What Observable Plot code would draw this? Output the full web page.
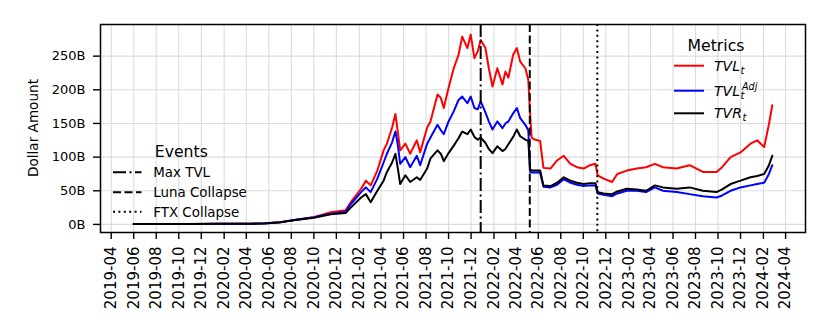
<!DOCTYPE html>
<html><head><meta charset="utf-8">
<script src="https://cdn.jsdelivr.net/npm/d3@7"></script>
<script src="https://cdn.jsdelivr.net/npm/@observablehq/plot@0.6"></script>
<style>
html,body{margin:0;padding:0;background:#fff;}
svg{font-family:"DejaVu Sans",sans-serif;display:block;}
</style></head><body><div id="chart"></div>
<script>
// ---- data ----
const dates = ["2019-06-01","2019-08-12","2019-11-02",
"2020-01-23","2020-04-12","2020-05-22","2020-07-03","2020-08-13","2020-10-01","2020-11-16","2020-12-26",
"2021-01-09","2021-02-06","2021-02-19","2021-03-04","2021-03-22","2021-04-08","2021-04-17","2021-05-01","2021-05-10","2021-05-16",
"2021-05-23","2021-06-06","2021-06-19","2021-07-07","2021-07-16","2021-08-04","2021-08-13","2021-09-01","2021-09-10","2021-09-18",
"2021-10-01","2021-10-15","2021-10-28","2021-11-07","2021-11-21","2021-11-30","2021-12-10","2021-12-19","2021-12-27",
"2022-01-09","2022-01-18","2022-01-28","2022-02-10","2022-02-24","2022-03-04","2022-03-12","2022-03-25","2022-04-04","2022-04-13",
"2022-04-27","2022-05-05","2022-05-10","2022-05-14","2022-05-23","2022-06-06","2022-06-15","2022-07-04","2022-07-22","2022-08-09",
"2022-08-27","2022-09-14","2022-10-02","2022-10-19","2022-11-03","2022-11-09","2022-11-25","2022-12-18",
"2023-01-01","2023-01-27","2023-02-23","2023-03-20","2023-04-13","2023-05-05","2023-06-11","2023-07-16","2023-08-21","2023-09-27",
"2023-10-12","2023-11-04","2023-12-01","2023-12-28",
"2024-01-15","2024-02-03","2024-02-16","2024-02-25"];

const tvl = [0.6,0.7,0.8,
1.0,1.1,1.6,3.4,7.0,10.8,18,21,
33,53,65,58,80,110,120,144,164,139,
110,120,105,125,107,144,153,193,188,173,
203,232,252,279,262,282,247,257,274,
262,232,205,232,208,227,218,252,262,242,
232,215,163,129,126,124,84,83,95,102,
90,85,83,88,90,73,68,63,
75,80,83,85,90,85,83,88,78,78,
85,100,107,120,
125,115,149,177];

const tvlAdj = [0.6,0.7,0.8,
1.0,1.1,1.6,3.4,6.8,10.8,16,19,
30,48,55,48,68,92,105,122,138,120,
90,100,85,102,88,120,129,148,140,134,
153,168,185,190,180,190,173,171,183,
166,153,141,153,143,150,153,165,173,158,
148,140,78,77,77,77,56,55,59,67,
62,59,57,58,58,46,44,42,
46,50,50,48,55,50,48,45,42,40,
43,50,55,58,
60,62,75,88];

const tvr = [0.5,0.6,0.7,
0.9,1.0,1.4,3.2,6.5,10,15,17,
25,40,45,33,50,65,78,92,105,85,
60,73,63,70,66,83,98,110,105,94,
106,117,128,138,134,141,130,126,129,
121,112,106,116,109,112,119,130,141,131,
126,124,82,80,80,80,58,57,62,70,
65,62,60,61,61,48,46,45,
49,53,52,50,58,55,53,55,50,48,
52,60,65,70,
72,75,88,102];

const eventNames = ["Max TVL","Luna Collapse","FTX Collapse"];
const eventDates = ["2021-12-27","2022-05-09","2022-11-08"];
const yTicks = [0,50,100,150,200,250];
const xDomain = ["2019-03-03","2024-05-25"];

// ---- build ----
const parse = d3.utcParse("%Y-%m-%d");
const rows = (vals) => dates.map((d,i)=>({date: parse(d), value: vals[i]}));
const xTicks = d3.utcMonth.range(new Date(Date.UTC(2019,3,1)), new Date(Date.UTC(2024,4,2)))
  .filter(d => d.getUTCMonth() % 2 === 1);

const dashes = ["13,3.5,2,3.5","8,3.5","2,3.4"];
const gridStyle = {stroke:"#dcdcdc", strokeOpacity:1, strokeWidth:1.1};

const chart = Plot.plot({
  width: 830, height: 332,
  marginLeft: 100, marginRight: 25, marginTop: 24, marginBottom: 100,
  style: {fontFamily: "DejaVu Sans", fontSize: "13px", color: "black", background: "white", overflow: "visible"},
  x: {type: "utc", domain: xDomain.map(parse)},
  y: {domain: [-12, 297]},
  marks: [
    Plot.gridX(xTicks, gridStyle),
    Plot.gridY(yTicks, gridStyle),
    Plot.line(rows(tvl), {x: "date", y: "value", stroke: "red", strokeWidth: 2}),
    Plot.line(rows(tvlAdj), {x: "date", y: "value", stroke: "blue", strokeWidth: 2}),
    Plot.line(rows(tvr), {x: "date", y: "value", stroke: "black", strokeWidth: 2}),
    ...eventDates.map((d, i) => Plot.ruleX([parse(d)], {stroke: "black", strokeWidth: 2, strokeDasharray: dashes[i]})),
    Plot.axisY(yTicks, {tickFormat: d => d + "B", tickSize: 7, tickPadding: 8, fontSize: 13, strokeWidth: 1.4, label: null}),
    Plot.axisX(xTicks, {tickFormat: d3.utcFormat("%Y-%m"), tickRotate: -90, tickSize: 7, tickPadding: 7, fontSize: 15, strokeWidth: 1.4, label: null}),
    Plot.frame({stroke: "black", strokeWidth: 1.5})
  ]
});
document.getElementById("chart").appendChild(chart);

// ---- annotations: y label & legends ----
const svg = d3.select(chart);
const g = svg.append("g").attr("font-family", "DejaVu Sans").attr("fill", "black")
  .attr("text-anchor", "start");

g.append("text").attr("transform", "translate(38,128) rotate(-90)")
  .attr("text-anchor", "middle").attr("font-size", 13.6).text("Dollar Amount");

// Metrics legend
g.append("text").attr("x", 716).attr("y", 50.5).attr("text-anchor", "middle")
  .attr("font-size", 15.7).text("Metrics");
const metricColors = ["red", "blue", "black"];
const metricY = [65.7, 90.7, 113.3];
metricColors.forEach((c, i) => {
  g.append("line").attr("x1", 674).attr("x2", 704).attr("y1", metricY[i]).attr("y2", metricY[i])
    .attr("stroke", c).attr("stroke-width", 2);
});
const it = (x, y, s, t) => g.append("text").attr("x", x).attr("y", y).attr("font-size", s)
  .attr("font-style", "italic").attr("text-anchor", "start").text(t);
it(714, 70.7, 14, "TVL"); it(740.5, 74, 10, "t");
it(714, 95.7, 14, "TVL"); it(740.5, 99, 10, "t"); it(742, 89.5, 9.6, "Adj");
it(714, 118.3, 14, "TVR"); it(742.5, 121.3, 10, "t");

// Events legend
g.append("text").attr("x", 181.3).attr("y", 156.7).attr("text-anchor", "middle")
  .attr("font-size", 15.7).text("Events");
const evY = [172.3, 192.3, 211.7];
eventNames.forEach((n, i) => {
  g.append("line").attr("x1", 113).attr("x2", 141.5).attr("y1", evY[i]).attr("y2", evY[i])
    .attr("stroke", "black").attr("stroke-width", 2).attr("stroke-dasharray", dashes[i]);
  g.append("text").attr("x", 153.3).attr("y", evY[i] + 5).attr("font-size", 13.4)
    .attr("text-anchor", "start").text(n);
});
</script></body></html>
